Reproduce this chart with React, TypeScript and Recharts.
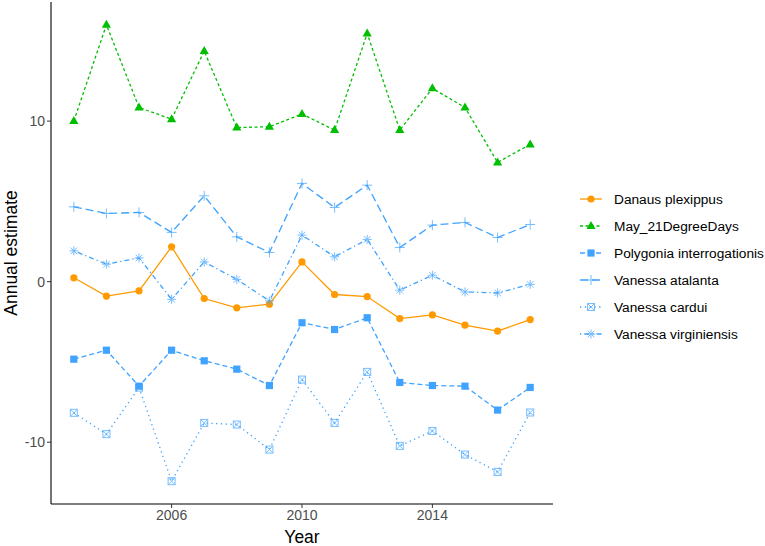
import { LineChart, Line, XAxis, YAxis } from "recharts"

const years = [2003, 2004, 2005, 2006, 2007, 2008, 2009, 2010, 2011, 2012, 2013, 2014, 2015, 2016, 2017]

const danaus = [0.24, -0.9, -0.57, 2.17, -1.05, -1.63, -1.4, 1.23, -0.8, -0.93, -2.3, -2.07, -2.71, -3.08, -2.36]
const mayDegreeDays = [10.0, 16.0, 10.85, 10.12, 14.36, 9.6, 9.65, 10.44, 9.44, 15.46, 9.44, 12.04, 10.85, 7.43, 8.55]
const polygonia = [-4.83, -4.27, -6.51, -4.27, -4.93, -5.45, -6.47, -2.56, -2.98, -2.25, -6.28, -6.47, -6.51, -8.0, -6.59]
const atalanta = [4.66, 4.25, 4.31, 3.07, 5.35, 2.79, 1.82, 6.12, 4.62, 6.01, 2.13, 3.52, 3.69, 2.75, 3.56]
const cardui = [-8.17, -9.5, -6.6, -12.43, -8.8, -8.9, -10.46, -6.1, -8.8, -5.62, -10.23, -9.3, -10.77, -11.85, -8.15]
const virginiensis = [1.92, 1.09, 1.48, -1.1, 1.23, 0.14, -1.2, 2.9, 1.55, 2.63, -0.53, 0.4, -0.64, -0.7, -0.17]

const xTicks = [2006, 2010, 2014]
const yTicks = [-10, 0, 10]

const ORANGE = "#FF9A00"
const GREEN = "#00BE00"
const BLUE = "#3FA3FF"

type Shape = "circle" | "triangle" | "square" | "plus" | "boxX" | "asterisk"

const series: Array<{ key: string; name: string; values: number[]; color: string; dash?: string; shape: Shape }> = [
  { key: "danaus", name: "Danaus plexippus", values: danaus, color: ORANGE, shape: "circle" },
  { key: "may", name: "May_21DegreeDays", values: mayDegreeDays, color: GREEN, dash: "3 2.5", shape: "triangle" },
  { key: "polygonia", name: "Polygonia interrogationis", values: polygonia, color: BLUE, dash: "5 3", shape: "square" },
  { key: "atalanta", name: "Vanessa atalanta", values: atalanta, color: BLUE, dash: "8 4", shape: "plus" },
  { key: "cardui", name: "Vanessa cardui", values: cardui, color: BLUE, dash: "1.3 3.5", shape: "boxX" },
  { key: "virginiensis", name: "Vanessa virginiensis", values: virginiensis, color: BLUE, dash: "1.3 3 5 3", shape: "asterisk" },
]

const data = years.map((year, i) => {
  const row: Record<string, number> = { year }
  series.forEach((s) => (row[s.key] = s.values[i]))
  return row
})

function Marker({ cx, cy, shape, color }: { cx: number; cy: number; shape: Shape; color: string }) {
  switch (shape) {
    case "circle":
      return <circle cx={cx} cy={cy} r={3.6} fill={color} />
    case "triangle":
      return <polygon points={`${cx},${cy - 5} ${cx - 4.6},${cy + 3} ${cx + 4.6},${cy + 3}`} fill={color} />
    case "square":
      return <rect x={cx - 3.6} y={cy - 3.6} width={7.2} height={7.2} fill={color} />
    case "plus":
      return (
        <g stroke={color} strokeWidth={1} opacity={0.7}>
          <line x1={cx - 5} y1={cy} x2={cx + 5} y2={cy} />
          <line x1={cx} y1={cy - 5} x2={cx} y2={cy + 5} />
        </g>
      )
    case "boxX":
      return (
        <g stroke={color} strokeWidth={1} fill="none" opacity={0.7}>
          <rect x={cx - 3.5} y={cy - 3.5} width={7} height={7} />
          <line x1={cx - 3.5} y1={cy - 3.5} x2={cx + 3.5} y2={cy + 3.5} />
          <line x1={cx - 3.5} y1={cy + 3.5} x2={cx + 3.5} y2={cy - 3.5} />
        </g>
      )
    case "asterisk":
      return (
        <g stroke={color} strokeWidth={1} opacity={0.7}>
          <line x1={cx - 4.5} y1={cy} x2={cx + 4.5} y2={cy} />
          <line x1={cx} y1={cy - 4.5} x2={cx} y2={cy + 4.5} />
          <line x1={cx - 3.3} y1={cy - 3.3} x2={cx + 3.3} y2={cy + 3.3} />
          <line x1={cx - 3.3} y1={cy + 3.3} x2={cx + 3.3} y2={cy - 3.3} />
        </g>
      )
  }
}

// legend drawn next to the chart so it doesn't eat into the plot width
function SeriesLegend() {
  return (
    <svg width={190} height={170} style={{ position: "absolute", left: 578, top: 185 }}>
      {series.map((s, i) => {
        const y = 14 + i * 27
        return (
          <g key={s.key}>
            <line x1={2} y1={y} x2={24} y2={y} stroke={s.color} strokeWidth={1.3} strokeDasharray={s.dash} />
            <Marker cx={13} cy={y} shape={s.shape} color={s.color} />
            <text x={36} y={y + 5} fontSize={13.7} fill="#000">
              {s.name}
            </text>
          </g>
        )
      })}
    </svg>
  )
}

export default function App() {
  return (
    <div style={{ position: "absolute", left: 0, top: 0, width: 765, height: 546, fontFamily: "'Liberation Sans', Arial, sans-serif" }}>
      <LineChart width={765} height={546} data={data} margin={{ top: 2, right: 212, bottom: 0, left: 0 }}>
        <XAxis
          dataKey="year"
          type="number"
          domain={[2002.3, 2017.7]}
          ticks={xTicks}
          allowDataOverflow
          height={42}
          tickSize={4}
          tickMargin={2}
          stroke="#000"
          axisLine={{ stroke: "#000", strokeWidth: 1.1 }}
          tickLine={{ stroke: "#333" }}
          tick={{ fontSize: 14, fill: "#4D4D4D" }}
          label={{ value: "Year", position: "insideBottom", offset: 3, fontSize: 17.5, fill: "#000" }}
        />
        <YAxis
          type="number"
          domain={[-13.85, 17.42]}
          ticks={yTicks}
          allowDataOverflow
          width={51}
          tickSize={4}
          tickMargin={2}
          stroke="#000"
          axisLine={{ stroke: "#000", strokeWidth: 1.1 }}
          tickLine={{ stroke: "#333" }}
          tick={{ fontSize: 14, fill: "#4D4D4D" }}
          label={{ value: "Annual estimate", angle: -90, position: "insideLeft", dx: 6, fontSize: 17.5, fill: "#000", style: { textAnchor: "middle" } }}
        />
        {series.map((s) => (
          <Line
            key={s.key}
            dataKey={s.key}
            name={s.name}
            stroke={s.color}
            strokeWidth={1.3}
            strokeDasharray={s.dash}
            isAnimationActive={false}
            dot={(p: any) => <Marker key={`${s.key}-${p.index}`} cx={p.cx} cy={p.cy} shape={s.shape} color={s.color} />}
            activeDot={false}
          />
        ))}
      </LineChart>
      <SeriesLegend />
    </div>
  )
}
